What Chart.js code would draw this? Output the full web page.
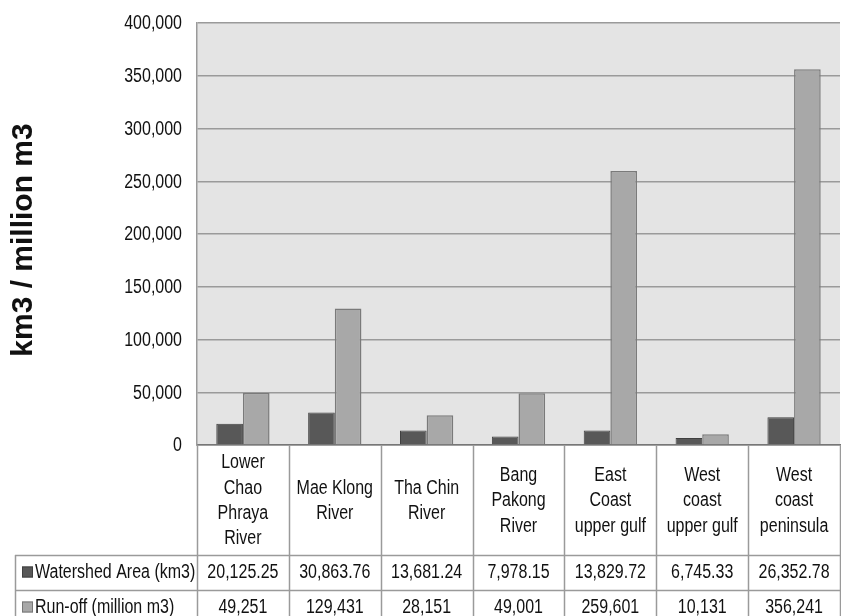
<!DOCTYPE html>
<html>
<head>
<meta charset="utf-8">
<script src="https://cdn.jsdelivr.net/npm/chart.js@4/dist/chart.umd.min.js"></script>
<style>
  html, body { margin: 0; padding: 0; background: #ffffff; }
  #wrap { width: 841px; height: 616px; }
</style>
</head>
<body>
<div id="wrap"><canvas id="c" width="841" height="616"></canvas></div>
<script>
// Watershed basins (multi-line labels shown in the table header row)
const categories = [
  ["Lower", "Chao", "Phraya", "River"],
  ["Mae Klong", "River"],
  ["Tha Chin", "River"],
  ["Bang", "Pakong", "River"],
  ["East", "Coast", "upper gulf"],
  ["West", "coast", "upper gulf"],
  ["West", "coast", "peninsula"]
];
const seriesNames = ["Watershed Area (km3)", "Run-off (million m3)"];
const watershedArea = [20125.25, 30863.76, 13681.24, 7978.15, 13829.72, 6745.33, 26352.78];
const runOff = [49251, 129431, 28151, 49001, 259601, 10131, 356241];
const yTicks = [0, 50000, 100000, 150000, 200000, 250000, 300000, 350000, 400000];
const yTitle = "km3 / million m3";

const FONT = "'Liberation Sans', Arial, sans-serif";
const TEXT_SIZE = 19.5;
const NARROW = 0.82;          // horizontal squeeze for the condensed label face
const DARK = "#585858";
const LIGHT = "#a8a8a8";
const TEXT = "#111111";
const LINE = "#9a9a9a";

const fmt2 = v => v.toLocaleString("en-US", { minimumFractionDigits: 2, maximumFractionDigits: 2 });
const fmt0 = v => v.toLocaleString("en-US", { maximumFractionDigits: 0 });
const tableRows = [
  { name: seriesNames[0], color: DARK, border: "#404040", cells: watershedArea.map(fmt2) },
  { name: seriesNames[1], color: LIGHT, border: "#777777", cells: runOff.map(fmt0) }
];

// condensed text helper
function narrowText(ctx, text, x, y, align) {
  ctx.save();
  ctx.translate(x, y);
  ctx.scale(NARROW, 1);
  ctx.textAlign = align;
  ctx.fillText(text, 0, 0);
  ctx.restore();
}

// Shaded plot area behind the bars
const plotBackground = {
  id: "plotBackground",
  beforeDraw(chart) {
    const { ctx, chartArea: a } = chart;
    ctx.save();
    ctx.fillStyle = "#e4e4e4";
    ctx.fillRect(a.left, a.top, a.right - a.left, a.bottom - a.top);
    ctx.restore();
  }
};

// Value-axis tick labels and rotated axis title
const yAxisText = {
  id: "yAxisText",
  afterDraw(chart) {
    const { ctx, scales: { y } } = chart;
    ctx.save();
    ctx.fillStyle = TEXT;
    ctx.font = TEXT_SIZE + "px " + FONT;
    ctx.textBaseline = "middle";
    y.ticks.forEach(t => narrowText(ctx, fmt0(t.value), y.right - 15, y.getPixelForValue(t.value) + 1, "right"));

    ctx.translate(24, 240);
    ctx.rotate(-Math.PI / 2);
    ctx.font = "bold 30px " + FONT;
    ctx.textAlign = "center";
    ctx.fillText(yTitle, 0, 0);
    ctx.restore();
  }
};

// Data table under the plot: category header row plus one row per series
const dataTable = {
  id: "dataTable",
  afterDraw(chart) {
    const { ctx, chartArea: a, scales: { x } } = chart;
    const n = categories.length;
    const colW = (a.right - a.left) / n;
    const headTop = a.bottom;
    const headBottom = a.bottom + 110;
    const rowH = 35;
    const tableLeft = 15;
    const bottom = chart.height;

    ctx.save();
    ctx.strokeStyle = LINE;
    ctx.lineWidth = 1.5;
    for (let k = 0; k <= n; k++) {
      const xx = Math.round(a.left + k * colW) + 0.5;
      ctx.beginPath();
      ctx.moveTo(xx, headTop);
      ctx.lineTo(xx, bottom);
      ctx.stroke();
    }
    for (let r = 0; r <= tableRows.length; r++) {
      const yy = Math.round(headBottom + r * rowH) + 0.5;
      ctx.beginPath();
      ctx.moveTo(tableLeft, yy);
      ctx.lineTo(a.right, yy);
      ctx.stroke();
    }
    ctx.beginPath();
    ctx.moveTo(tableLeft + 0.5, headBottom);
    ctx.lineTo(tableLeft + 0.5, bottom);
    ctx.stroke();

    // category header text
    ctx.fillStyle = TEXT;
    ctx.font = TEXT_SIZE + "px " + FONT;
    ctx.textBaseline = "middle";
    const lineH = 25.3;
    const headMid = (headTop + headBottom) / 2 + 1;
    categories.forEach((lines, i) => {
      const cx = x.getPixelForValue(i);
      const y0 = headMid - (lines.length - 1) * lineH / 2;
      lines.forEach((t, j) => narrowText(ctx, t, cx, y0 + j * lineH, "center"));
    });

    // series rows with legend keys
    tableRows.forEach((row, r) => {
      const cy = headBottom + r * rowH + rowH / 2;
      ctx.fillStyle = row.color;
      ctx.fillRect(22, cy - 6, 11, 11);
      ctx.strokeStyle = row.border;
      ctx.lineWidth = 1;
      ctx.strokeRect(22.5, cy - 5.5, 10, 10);
      ctx.fillStyle = TEXT;
      narrowText(ctx, row.name, 35, cy, "left");
      row.cells.forEach((t, i) => narrowText(ctx, t, x.getPixelForValue(i), cy, "center"));
    });
    ctx.restore();
  }
};

new Chart(document.getElementById("c"), {
  type: "bar",
  data: {
    labels: categories.map(c => c.join(" ")),
    datasets: [
      {
        label: seriesNames[0],
        data: watershedArea,
        backgroundColor: DARK,
        borderColor: "#404040",
        borderWidth: 1,
        categoryPercentage: 0.58,
        barPercentage: 1.0
      },
      {
        label: seriesNames[1],
        data: runOff,
        backgroundColor: LIGHT,
        borderColor: "#7a7a7a",
        borderWidth: 1.5,
        categoryPercentage: 0.58,
        barPercentage: 1.0
      }
    ]
  },
  options: {
    responsive: false,
    animation: false,
    devicePixelRatio: 1,
    layout: { padding: { left: 0, top: 23, right: 1, bottom: 171 } },
    plugins: {
      legend: { display: false },
      tooltip: { enabled: false }
    },
    scales: {
      x: {
        ticks: { display: false },
        grid: { display: false, drawTicks: false },
        border: { display: true, color: "#777777", width: 1.5 }
      },
      y: {
        min: 0,
        max: 400000,
        afterBuildTicks(scale) { scale.ticks = yTicks.map(v => ({ value: v })); },
        afterFit(scale) { scale.width = 197; },
        ticks: { display: false },
        grid: { color: LINE, lineWidth: 1.5, drawTicks: false },
        border: { display: true, color: LINE, width: 1.5 },
        title: { display: false }
      }
    }
  },
  plugins: [plotBackground, yAxisText, dataTable]
});
</script>
</body>
</html>
